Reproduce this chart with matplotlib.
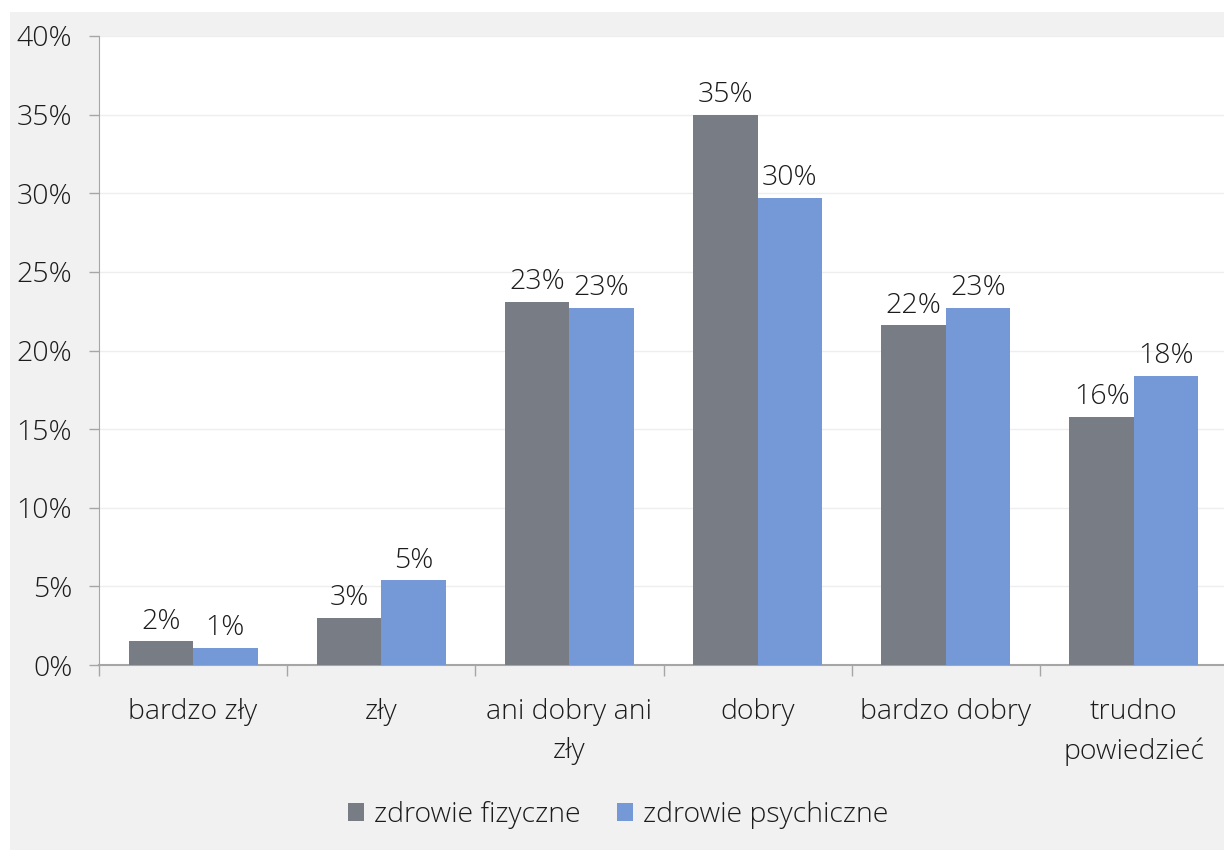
import numpy as np
import matplotlib
matplotlib.use("Agg")
import matplotlib.pyplot as plt
from matplotlib.patches import Rectangle, Patch

plt.rcParams['font.family'] = ['Open Sans', 'DejaVu Sans']
plt.rcParams['font.weight'] = 'light'

categories = ["bardzo zły", "zły", "ani dobry ani\nzły", "dobry", "bardzo dobry", "trudno\npowiedzieć"]
fizyczne = [1.5, 3.0, 23.1, 35.0, 21.6, 15.8]
psychiczne = [1.1, 5.4, 22.7, 29.7, 22.7, 18.4]
series_names = ["zdrowie fizyczne", "zdrowie psychiczne"]
yticks = [0, 5, 10, 15, 20, 25, 30, 35, 40]

c_fiz = "#787c85"
c_psy = "#7499d6"
bg = "#f1f1f1"
axis_col = "#a6a6a6"
txt = "#1c1c1c"
fs = 20.5

fig = plt.figure(figsize=(12.24, 8.5), dpi=100)
fig.patch.set_facecolor("white")
fig.patches.append(Rectangle((10 / 1224, 0), 1, 1 - 12 / 850, transform=fig.transFigure,
                             facecolor=bg, edgecolor="none", zorder=-5))

ax = fig.add_axes([99 / 1224, 1 - 665 / 850, (1228 - 99) / 1224, (665 - 36) / 850])
ax.set_facecolor("white")

x = np.arange(len(categories))
w = 0.343
b1 = ax.bar(x - w / 2, fizyczne, w, color=c_fiz, zorder=3)
b2 = ax.bar(x + w / 2, psychiczne, w, color=c_psy, zorder=3)

for bars, vals in ((b1, fizyczne), (b2, psychiczne)):
    for r, v in zip(bars, vals):
        ax.annotate(f"{v:.0f}%", (r.get_x() + r.get_width() / 2, v),
                    xytext=(0, 4), textcoords="offset points",
                    ha="center", va="bottom", fontsize=fs, color=txt)

ax.set_ylim(0, 40)
ax.set_xlim(-0.5, len(categories) - 0.5)
ax.set_yticks(yticks)
ax.set_yticklabels([f"{t}%" for t in yticks], fontsize=fs, color=txt)
ax.yaxis.grid(True, color="#eeeeee", linewidth=1, zorder=0)

# boundaries get the tick marks, category names sit on minor ticks at bar centres
ax.set_xticks(np.arange(-0.5, len(categories)), labels=[])
ax.set_xticks(x, labels=categories, minor=True)
ax.tick_params(axis="x", which="major", length=8, width=1, color=axis_col, direction="out")
ax.tick_params(axis="x", which="minor", length=0, pad=24, labelsize=fs, labelcolor=txt)
ax.tick_params(axis="y", length=7.2, width=1, color=axis_col, pad=12)
for lab in ax.get_xticklabels(minor=True):
    lab.set_linespacing(1.5)
    lab.set_verticalalignment("top")

for s in ("top", "right"):
    ax.spines[s].set_visible(False)
ax.spines["left"].set_color(axis_col)
ax.spines["bottom"].set_color(axis_col)
ax.spines["bottom"].set_linewidth(1.5)

handles = [Patch(facecolor=c_fiz), Patch(facecolor=c_psy)]
fig.legend(handles, series_names, loc="center", bbox_to_anchor=(0.505, 1 - 815 / 850),
           ncol=2, frameon=False, fontsize=fs, labelcolor=txt,
           handlelength=0.55, handleheight=0.55, handletextpad=0.35, columnspacing=1.3)

fig.savefig("out.png", dpi=100)
